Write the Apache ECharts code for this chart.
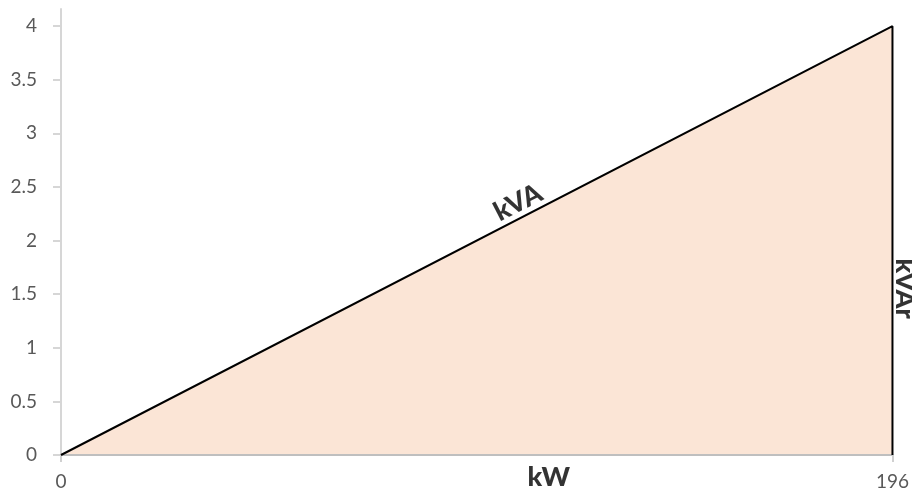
<!DOCTYPE html>
<html>
<head>
<meta charset="utf-8">
<script src="https://cdn.jsdelivr.net/npm/echarts@6/dist/echarts.min.js"></script>
<style>
  html, body { margin: 0; padding: 0; background: #fff; }
  #chart { width: 912px; height: 496px; }
</style>
</head>
<body>
<div id="chart"></div>
<script>
  // power triangle: kW along x, kVAr up the right side, kVA on the diagonal
  const kw = 196
  const kvar = 4
  const xPoints = [0, kw, kw]
  const yPoints = [0, kvar, 0]
  const yTicks = [0, 0.5, 1, 1.5, 2, 2.5, 3, 3.5, 4]
  const xTicks = [0, kw]
  const sideNames = ['kVA', 'kW', 'kVAr']

  const font = 'Lato, "Open Sans", sans-serif'
  const chart = echarts.init(document.getElementById('chart'))

  // offsets are in the label's own (rotated) frame
  const sideLabel = (name, x, y, rotate, offset) => ({
    name: name,
    value: [x, y],
    label: { rotate: rotate, offset: offset }
  })

  const option = {
    animation: false,
    grid: { left: 61, right: 18, top: 9, bottom: 41 },
    xAxis: {
      type: 'value',
      min: 0,
      max: kw,
      z: 3,
      splitLine: { show: false },
      axisLine: { lineStyle: { color: '#bfbfbf', width: 2 } },
      axisTick: { show: true, length: 7, customValues: xTicks, lineStyle: { color: '#d0d0d0', width: 2 } },
      axisLabel: { customValues: xTicks, margin: 17, color: '#595959', fontSize: 19, fontFamily: font }
    },
    yAxis: {
      type: 'value',
      min: 0,
      max: kvar + 0.16,
      splitLine: { show: false },
      axisLine: { show: true, lineStyle: { color: '#d6d6d6', width: 2 } },
      axisTick: { show: true, length: 8, customValues: yTicks, lineStyle: { color: '#d6d6d6', width: 2 } },
      axisLabel: { customValues: yTicks, margin: 24, color: '#595959', fontSize: 19, fontFamily: font }
    },
    series: [
      {
        type: 'line',
        data: xPoints.map((x, i) => [x, yPoints[i]]),
        symbol: 'none',
        lineStyle: { color: '#000', width: 2 },
        areaStyle: { color: '#fbe5d6', opacity: 1 }
      },
      {
        type: 'scatter',
        symbolSize: 1,
        itemStyle: { color: 'rgba(0,0,0,0)' },
        silent: true,
        z: 4,
        label: {
          show: true,
          position: 'inside',
          formatter: '{b}',
          color: '#000',
          fontFamily: font,
          fontWeight: 900,
          fontSize: 27
        },
        data: [
          sideLabel(sideNames[0], kw / 2, kvar / 2, 27, [54, -15]),
          sideLabel(sideNames[1], kw / 2, 0, 0, [72, 22]),
          sideLabel(sideNames[2], kw, kvar / 2, -90, [48, -12])
        ]
      }
    ]
  }
  chart.setOption(option)
</script>
</body>
</html>
